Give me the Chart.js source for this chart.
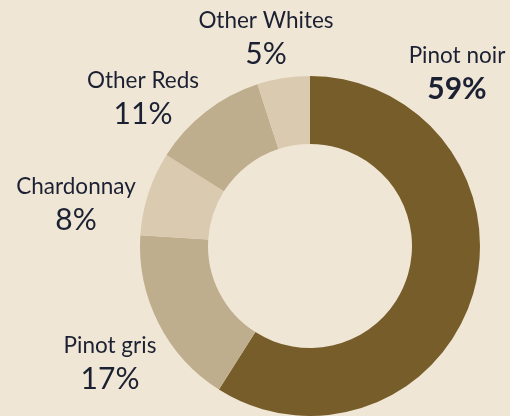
<!DOCTYPE html>
<html>
<head>
<meta charset="utf-8">
<script src="https://cdn.jsdelivr.net/npm/chart.js@4.4.1/dist/chart.umd.min.js"></script>
<style>
  html, body { margin: 0; padding: 0; background: #f0e6d5; }
  #wrap { width: 510px; height: 416px; }
</style>
</head>
<body>
<div id="wrap"><canvas id="grafico"></canvas></div>
<script>
// ===== DADOS =====
const variedades = ["Pinot noir", "Pinot gris", "Chardonnay", "Other Reds", "Other Whites"];
const percentuais = [59, 17, 8, 11, 5];
const cores = ["#765d2a", "#bfae8d", "#dacbb0", "#bfae8d", "#dacbb0"];

// posição dos rótulos relativa ao centro do anel (dx, linha do nome, linha do %)
const rotulos = [
  { dx: 147, yNome: -183, yPct: -147, negrito: true },
  { dx: -200, yNome: 107, yPct: 143 },
  { dx: -234, yNome: -52, yPct: -16 },
  { dx: -167, yNome: -158, yPct: -122 },
  { dx: -44, yNome: -218, yPct: -182 }
];

const pluginRotulos = {
  id: "rotulos",
  afterDatasetsDraw(chart) {
    const arco = chart.getDatasetMeta(0).data[0];
    const ctx = chart.ctx;
    ctx.save();
    ctx.fillStyle = "#1b2033";
    ctx.textAlign = "center";
    ctx.textBaseline = "alphabetic";
    variedades.forEach((nome, i) => {
      const r = rotulos[i];
      ctx.font = "22.5px Lato";
      ctx.fillText(nome, arco.x + r.dx, arco.y + r.yNome);
      ctx.font = (r.negrito ? "bold " : "") + "30px Lato";
      ctx.fillText(percentuais[i] + "%", arco.x + r.dx, arco.y + r.yPct);
    });
    ctx.restore();
  }
};

new Chart(document.getElementById("grafico"), {
  type: "doughnut",
  data: {
    labels: variedades,
    datasets: [{
      data: percentuais,
      backgroundColor: cores,
      borderWidth: 0
    }]
  },
  options: {
    responsive: true,
    maintainAspectRatio: false,
    animation: false,
    cutout: "60%",
    layout: { padding: { top: 76, left: 140, right: 30, bottom: 0 } },
    plugins: {
      legend: { display: false },
      tooltip: { enabled: false }
    }
  },
  plugins: [pluginRotulos]
});
</script>
</body>
</html>
